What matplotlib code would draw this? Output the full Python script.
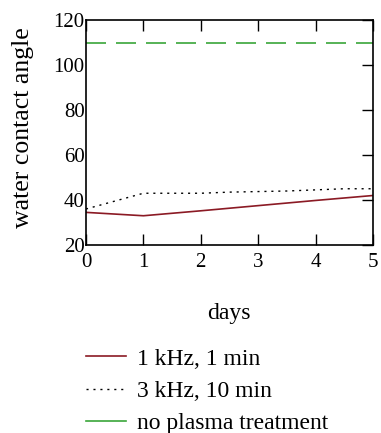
import matplotlib
matplotlib.use("Agg")
import matplotlib.pyplot as plt
from matplotlib.lines import Line2D

plt.rcParams['font.family'] = ['Liberation Serif', 'DejaVu Serif']

days = [0, 1, 2, 3, 4, 5]
angle_1khz = [34.5, 33.0, 35.2, 37.5, 39.8, 42.0]
days_3khz = [0, 1, 2, 2.5, 3.5, 4.5, 5]
angle_3khz = [36.0, 43.0, 43.0, 43.5, 44.0, 45.0, 45.0]
no_plasma = 110.0
labels = ["1 kHz, 1 min", "3 kHz, 10 min", "no plasma treatment"]

W, H = 381, 433
fig = plt.figure(figsize=(W / 100, H / 100), dpi=100)
ax = fig.add_axes([86 / W, 1 - 245 / H, (373 - 86) / W, (245 - 20) / H])

ax.plot(days, angle_1khz, color='#8b1a24', lw=1.2)
ax.plot(days_3khz, angle_3khz, color='black', lw=1.0, linestyle=(0, (1.5, 3.5)))
ax.axhline(no_plasma, color='#3aa63a', lw=1.2, linestyle=(0, (12, 6)))

ax.set_xlim(0, 5)
ax.set_ylim(20, 120)
ax.set_xticks(range(0, 6))
ax.set_yticks(range(20, 121, 20))
ax.tick_params(axis='both', direction='in', length=8, width=1, labelsize=15)
ax.tick_params(axis='y', left=False, right=True, pad=1)
ax.tick_params(axis='x', top=True, pad=6)
ax.set_ylabel("water contact angle", fontsize=18.5)
ax.yaxis.set_label_coords(-0.18, 0.52)
for s in ax.spines.values():
    s.set_linewidth(1.2)

fig.text(229 / W, 1 - 314 / H, "days", ha='center', va='center', fontsize=17)

handles = [Line2D([], [], color='#8b1a24', lw=1.2),
           Line2D([], [], color='black', lw=1.0, linestyle=(0, (1.5, 3.5))),
           Line2D([], [], color='#3aa63a', lw=1.2)]
fig.legend(handles, labels, loc='upper left', bbox_to_anchor=(86 / W, 1 - 348 / H),
           frameon=False, fontsize=17, handlelength=1.7, handletextpad=0.45,
           labelspacing=0.46, borderaxespad=0, borderpad=0)

fig.savefig("out.png", dpi=100)
